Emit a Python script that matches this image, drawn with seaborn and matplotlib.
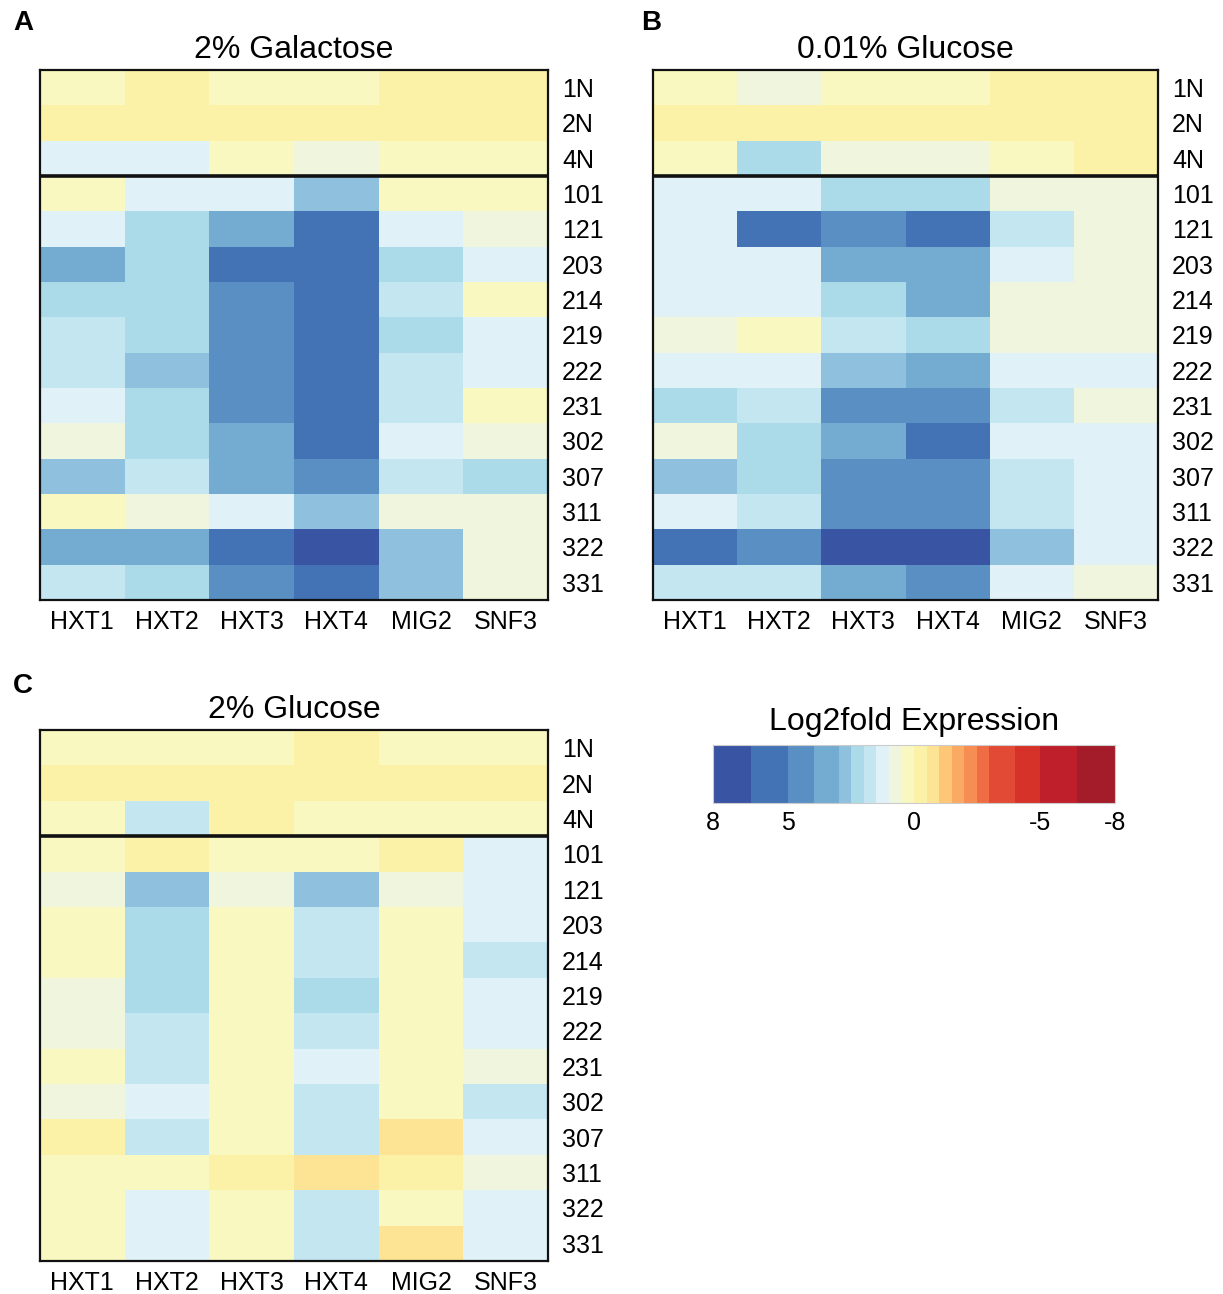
import numpy as np
import pandas as pd
import matplotlib
matplotlib.use("Agg")
import matplotlib.pyplot as plt
from matplotlib.colors import ListedColormap, BoundaryNorm
from matplotlib.cm import ScalarMappable
import seaborn as sns

sns.set_style("white")
plt.rcParams["font.family"] = ["Liberation Sans", "DejaVu Sans"]
plt.rcParams["text.color"] = "black"
plt.rcParams["xtick.color"] = "black"
plt.rcParams["ytick.color"] = "black"
plt.rcParams["axes.titlecolor"] = "black"

# ---- data -------------------------------------------------------------
genes = ["HXT1", "HXT2", "HXT3", "HXT4", "MIG2", "SNF3"]
strains = ["1N", "2N", "4N", "101", "121", "203", "214", "219", "222",
           "231", "302", "307", "311", "322", "331"]

# log2 fold expression, one row per strain, columns follow `genes`
galactose_2pct = [
    [0.2, -0.2, 0.2, 0.2, -0.2, -0.2],
    [-0.2, -0.2, -0.2, -0.2, -0.2, -0.2],
    [1.2, 1.2, 0.2, 0.7, 0.2, 0.2],
    [0.2, 1.2, 1.2, 2.7, 0.2, 0.2],
    [1.2, 2.2, 3.5, 5.7, 1.2, 0.7],
    [3.5, 2.2, 5.7, 5.7, 2.2, 1.2],
    [2.2, 2.2, 4.5, 5.7, 1.7, 0.2],
    [1.7, 2.2, 4.5, 5.7, 2.2, 1.2],
    [1.7, 2.7, 4.5, 5.7, 1.7, 1.2],
    [1.2, 2.2, 4.5, 5.7, 1.7, 0.2],
    [0.7, 2.2, 3.5, 5.7, 1.2, 0.7],
    [2.7, 1.7, 3.5, 4.5, 1.7, 2.2],
    [0.2, 0.7, 1.2, 2.7, 0.7, 0.7],
    [3.5, 3.5, 5.7, 7.0, 2.7, 0.7],
    [1.7, 2.2, 4.5, 5.7, 2.7, 0.7],
]

glucose_001pct = [
    [0.2, 0.7, 0.2, 0.2, -0.2, -0.2],
    [-0.2, -0.2, -0.2, -0.2, -0.2, -0.2],
    [0.2, 2.2, 0.7, 0.7, 0.2, -0.2],
    [1.2, 1.2, 2.2, 2.2, 0.7, 0.7],
    [1.2, 5.7, 4.5, 5.7, 1.7, 0.7],
    [1.2, 1.2, 3.5, 3.5, 1.2, 0.7],
    [1.2, 1.2, 2.2, 3.5, 0.7, 0.7],
    [0.7, 0.2, 1.7, 2.2, 0.7, 0.7],
    [1.2, 1.2, 2.7, 3.5, 1.2, 1.2],
    [2.2, 1.7, 4.5, 4.5, 1.7, 0.7],
    [0.7, 2.2, 3.5, 5.7, 1.2, 1.2],
    [2.7, 2.2, 4.5, 4.5, 1.7, 1.2],
    [1.2, 1.7, 4.5, 4.5, 1.7, 1.2],
    [5.7, 4.5, 7.0, 7.0, 2.7, 1.2],
    [1.7, 1.7, 3.5, 4.5, 1.2, 0.7],
]

glucose_2pct = [
    [0.2, 0.2, 0.2, -0.2, 0.2, 0.2],
    [-0.2, -0.2, -0.2, -0.2, -0.2, -0.2],
    [0.2, 1.7, -0.2, 0.2, 0.2, 0.2],
    [0.2, -0.2, 0.2, 0.2, -0.2, 1.2],
    [0.7, 2.7, 0.7, 2.7, 0.7, 1.2],
    [0.2, 2.2, 0.2, 1.7, 0.2, 1.2],
    [0.2, 2.2, 0.2, 1.7, 0.2, 1.7],
    [0.7, 2.2, 0.2, 2.2, 0.2, 1.2],
    [0.7, 1.7, 0.2, 1.7, 0.2, 1.2],
    [0.2, 1.7, 0.2, 1.2, 0.2, 0.7],
    [0.7, 1.2, 0.2, 1.7, 0.2, 1.7],
    [-0.2, 1.7, 0.2, 1.7, -0.7, 1.2],
    [0.2, 0.2, -0.2, -0.7, -0.2, 0.7],
    [0.2, 1.2, 0.2, 1.7, 0.2, 1.2],
    [0.2, 1.2, 0.2, 1.7, -0.7, 1.2],
]

# discrete colour scale (low -> high)
scale_bounds = [-8, -6.5, -5, -4, -3, -2.5, -2, -1.5, -1, -0.5, 0,
                0.5, 1, 1.5, 2, 2.5, 3, 4, 5, 6.5, 8]
scale_colors = ["#a41c2a", "#bf1f2b", "#d73229", "#e34a35", "#f06c44",
                "#f68d53", "#faaa62", "#fdc777", "#fde494", "#fcf2a7",
                "#f9f8c1", "#eff6dd", "#e0f2f8", "#c4e6f1", "#abdae9",
                "#8fc1de", "#74acd1", "#5a8fc4", "#4373b5", "#3a54a4"]
scale_ticks = [8, 5, 0, -5, -8]

cmap = ListedColormap(scale_colors)
norm = BoundaryNorm(scale_bounds, cmap.N)

# ---- figure -----------------------------------------------------------
W, H = 1223, 1294
fig = plt.figure(figsize=(W / 100, H / 100), dpi=100)


def px_axes(x0, y0, x1, y1):
    return fig.add_axes([x0 / W, 1 - y1 / H, (x1 - x0) / W, (y1 - y0) / H])


panels = [
    ("A", "2% Galactose", galactose_2pct, (40, 70, 548, 600), (23, 23)),
    ("B", "0.01% Glucose", glucose_001pct, (653, 70, 1158, 600), (651, 23)),
    ("C", "2% Glucose", glucose_2pct, (40, 730, 548, 1261), (23, 686)),
]

for letter, title, values, box, lpos in panels:
    ax = px_axes(*box)
    df = pd.DataFrame(values, index=strains, columns=genes)
    sns.heatmap(df, ax=ax, cmap=cmap, norm=norm, cbar=False, linewidths=0)
    ax.yaxis.tick_right()
    ax.set_yticklabels(strains, rotation=0)
    ax.set_xticklabels(genes, rotation=0)
    ax.tick_params(axis="y", length=0, labelsize=18, pad=10,
                   labelcolor="black")
    ax.tick_params(axis="x", length=0, labelsize=18, pad=7,
                   labelcolor="black")
    ax.set_xlabel("")
    ax.set_ylabel("")
    for sp in ax.spines.values():
        sp.set_visible(True)
        sp.set_color("#111111")
        sp.set_linewidth(1.6)
    ax.axhline(3, color="#111111", lw=2.6)
    ax.set_title(title, fontsize=23, pad=9, color="black")
    fig.text(lpos[0] / W, 1 - lpos[1] / H, letter, fontsize=20,
             fontweight="bold", ha="center", va="center", color="black")

# colour scale
cax = px_axes(713, 745, 1115, 803)
cb = fig.colorbar(ScalarMappable(norm=norm, cmap=cmap), cax=cax,
                  orientation="horizontal", spacing="proportional",
                  ticks=scale_ticks)
cb.minorticks_off()
cax.invert_xaxis()
cb.outline.set_edgecolor("#cccccc")
cb.outline.set_linewidth(0.8)
cax.tick_params(which="both", length=0, labelsize=18, pad=6,
                labelcolor="black")
cax.set_xticklabels([str(t) for t in scale_ticks])
cax.set_title("Log2fold Expression", fontsize=23, pad=11, color="black")

fig.savefig("out.png", dpi=100)
